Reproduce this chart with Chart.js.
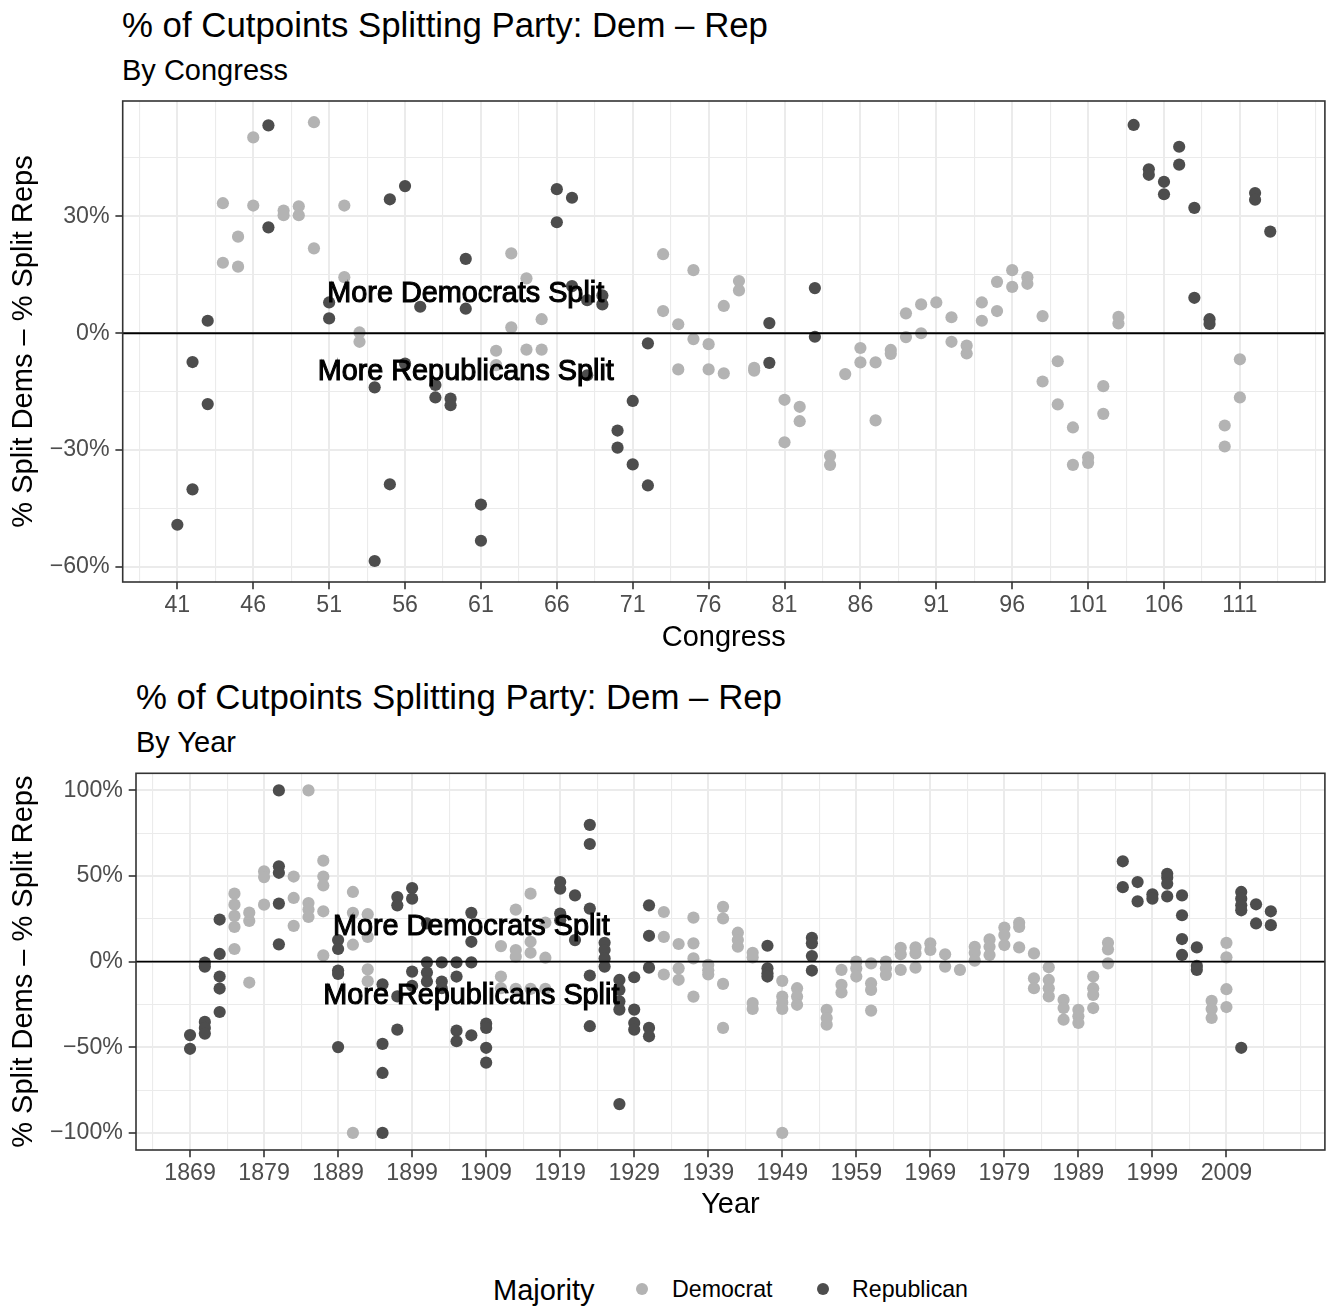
<!DOCTYPE html>
<html>
<head>
<meta charset="utf-8">
<script src="https://cdn.jsdelivr.net/npm/chart.js@4/dist/chart.umd.min.js"></script>
<style>
  html, body { margin: 0; padding: 0; background: #fff; }
  body { width: 1331px; height: 1306px; position: relative; overflow: hidden;
         font-family: "Liberation Sans", Arial, sans-serif; }
  .t { position: absolute; white-space: nowrap; color: #000; line-height: 1; }
  canvas { position: absolute; left: 0; }
  .dot { position: absolute; width: 12px; height: 12px; border-radius: 50%; }
</style>
</head>
<body>
<div class="t" style="left:122px; top:8px; font-size:34.8px;">% of Cutpoints Splitting Party: Dem – Rep</div>
<div class="t" style="left:122px; top:56px; font-size:29px;">By Congress</div>
<canvas id="c1" width="1331" height="665" style="top:0px;"></canvas>

<div class="t" style="left:136px; top:680px; font-size:34.8px;">% of Cutpoints Splitting Party: Dem – Rep</div>
<div class="t" style="left:136px; top:728px; font-size:29px;">By Year</div>
<canvas id="c2" width="1331" height="575" style="top:665px;"></canvas>

<div class="t" style="left:493px; top:1276px; font-size:29px;">Majority</div>
<div class="dot" style="left:636px; top:1283px; background:#b3b3b3;"></div>
<div class="t" style="left:672px; top:1277.7px; font-size:23.2px;">Democrat</div>
<div class="dot" style="left:817px; top:1283px; background:#4d4d4d;"></div>
<div class="t" style="left:852px; top:1277.7px; font-size:23.2px;">Republican</div>

<script>
// ---------------- DATA: top panel (by Congress) ----------------
const topDemCongress = [
  44,44, 45,45, 46,46, 48,48, 49,49, 50,50, 52,52, 53,53,
  62,62, 63,63, 64,64, 65,65,
  73,73, 74,74, 75,75, 76,76, 77,77, 78,78, 79,79,
  81,81, 82,82, 84,84, 85, 86,86, 87,87, 88,88, 89,89, 90,90,
  91, 92,92, 93,93, 94,94, 95,95, 96,96, 97,97, 98,98, 99,99,
  100,100, 101,101, 102,102, 103,103, 110,110, 111,111
];
const topDemValue = [
  33.4,18.1, 24.8,17.1, 50.3,32.8, 31.5,30.3, 32.6,30.3, 54.2,21.8, 32.8,14.4, 0.2,-2.2,
  -4.5,-8.2, 20.5,1.5, 14.1,-4.2, 3.6,-4.2,
  20.3,5.7, 2.3,-9.3, 16.2,-1.5, -2.8,-9.3, 7.0,-10.3, 13.4,11.0, -8.9,-9.6,
  -17.1,-28.0, -18.9,-22.6, -31.5,-33.8, -10.5, -3.8,-7.5, -7.5,-22.4, -4.3,-5.3, 5.1,-1.0, 7.4,0.0,
  7.9, 4.1,-2.2, -3.2,-5.2, 7.9,3.2, 13.2,5.7, 16.2,11.9, 14.4,12.7, 4.4,-12.4, -7.2,-18.3,
  -24.2,-33.8, -31.9,-33.3, -13.6,-20.7, 4.2,2.5, -23.7,-29.1, -6.7,-16.5
];
const topRepCongress = [
  41, 42,42, 43,43, 47,47, 51,51, 54,54, 55,55, 56,56, 57, 58,58, 59,59, 60,60, 61,61,
  66,66, 67,67, 68,68, 69,69, 70,70, 71,71, 72,72, 80,80, 83,83,
  104, 105,105, 106,106, 107,107, 108,108, 109,109, 112,112, 113
];
const topRepValue = [
  -49.2, -7.4,-40.1, 3.2,-18.2, 53.4,27.2, 7.9,3.8, -13.9,-58.5, 34.4,-38.8, 37.8,-7.8, 6.8, -13.3,-16.5, -16.8,-18.5, 19.1,6.3, -44.0,-53.3,
  37.0,28.5, 34.8,12.1, 8.5,-10.8, 9.7,7.4, -25.0,-29.4, -17.4,-33.7, -2.6,-39.1, 2.6,-7.6, 11.6,-0.9,
  53.5, 42.1,40.7, 38.9,35.7, 47.9,43.3, 32.2,9.1, 3.6,2.4, 36.0,34.3, 26.1
];
const topXMajor = [41,46,51,56,61,66,71,76,81,86,91,96,101,106,111];
const topXMinor = [38.5,43.5,48.5,53.5,58.5,63.5,68.5,73.5,78.5,83.5,88.5,93.5,98.5,103.5,108.5,113.5,116];
const topYMajor = [-60,-30,0,30];
const topYMinor = [-45,-15,15,45];
const topAnnotX = [60, 60];
const topAnnotY = [10, -10];

// ---------------- DATA: bottom panel (by Year) ----------------
const botDemYear = [
  1875,1875,1875,1875,1875, 1877,1877,1877, 1879,1879,1879, 1883,1883,1883,
  1885,1885,1885,1885, 1887,1887,1887,1887,1887, 1891,1891,1891,1891, 1893,1893,1893,1893,
  1911,1911,1911, 1913,1913,1913,1913, 1915,1915,1915,1915, 1917,1917,1917,
  1933,1933,1933, 1935,1935,1935, 1937,1937,1937,1937, 1939,1939,1939, 1941,1941,1941,1941,
  1943,1943,1943, 1945,1945,1945,1945, 1949,1949,1949,1949,1949, 1951,1951,1951,
  1955,1955,1955, 1957,1957,1957, 1959,1959,1959, 1961,1961,1961,1961, 1963,1963,1963,
  1965,1965,1965, 1967,1967,1967, 1969,1969, 1971,1971, 1973, 1975,1975,1975,
  1977,1977,1977, 1979,1979,1979, 1981,1981,1981, 1983,1983,1983, 1985,1985,1985,1985,
  1987,1987,1987, 1989,1989,1989, 1991,1991,1991,1991, 1993,1993,1993,
  2007,2007,2007, 2009,2009,2009,2009
];
const botDemValue = [
  39.7,33.3,26.7,20.3,7.4, 28.6,23.8,-12.2, 52.7,49.4,33.3, 49.7,37.2,20.9,
  100,34.2,30.4,26.1, 59.0,49.7,44.5,29.4,3.7, 40.7,28.5,9.9,-100, 27.7,14.5,-4.5,-11.4,
  9.1,-8.7,-15.5, 30.4,6.8,2.9,-15.9, 39.7,11.6,5.2,-15.9, 22.8,2.3,-15.9,
  29.0,14.5,-7.5, 10.3,-3.9,-10.6, 25.7,10.7,1.9,-20.4, -1.9,-5.0,-7.5, 32.0,25.2,-13.0,-38.7,
  16.9,12.6,8.7, 5.2,2.5,-24.2,-27.6, -11.2,-20.4,-23.8,-27.6,-100, -15.5,-20.4,-25.2,
  -28.1,-32.9,-36.8, -4.8,-13.5,-18.0, 0,-3.9,-8.7, -1.0,-12.6,-16.5,-28.6, 0,-3.9,-7.7,
  8.1,4.3,-4.8, 8.3,4.8,-3.5, 10.7,6.8, 4.3,-2.9, -4.8, 8.7,5.2,0.6,
  13.0,8.7,3.9, 19.9,15.5,9.7, 22.7,20.3,8.3, 4.8,-9.7,-15.5, -3.3,-10.7,-15.5,-20.3,
  -22.3,-27.1,-33.9, -28.1,-31.9,-35.8, -8.7,-15.5,-19.4,-27.1, 11.0,7.2,-1.0,
  -22.9,-27.7,-32.9, 11.0,2.5,-16.1,-26.5
];
const botRepYear = [
  1869,1869, 1871,1871,1871,1871,1871, 1873,1873,1873,1873,1873, 1881,1881,1881,1881,1881,
  1889,1889,1889,1889,1889, 1895,1895,1895,1895, 1897,1897,1897,1897, 1899,1899,1899,1899,
  1901,1901,1901,1901, 1903,1903,1903, 1905,1905,1905,1905, 1907,1907,1907,1907,
  1909,1909,1909,1909, 1919,1919,1919,1919, 1921,1921, 1923,1923,1923,1923,1923,
  1925,1925,1925,1925, 1927,1927,1927,1927,1927, 1929,1929,1929,1929, 1931,1931,1931,1931,1931,
  1947,1947,1947,1947, 1953,1953,1953,1953,
  1995,1995, 1997,1997, 1999,1999, 2001,2001,2001,2001, 2003,2003,2003,2003, 2005,2005,2005,
  2011,2011,2011,2011,2011, 2013,2013, 2015,2015
];
const botRepValue = [
  -42.9,-50.9, -0.6,-2.9,-35.2,-38.7,-42.0, 24.6,4.5,-8.7,-15.7,-29.4, 100,55.7,51.9,33.9,10.1,
  12.6,7.4,-5.2,-7.2,-49.9, -13.2,-48.0,-65.0,-100, 37.7,32.9,-20.3,-39.7, 43.0,36.8,-5.8,-14.1,
  22.3,-0.4,-6.4,-11.6, -0.4,-11.6,-15.5, -0.4,-8.7,-40.3,-46.5, 28.5,11.6,-0.4,-43.0,
  -36.2,-38.7,-50.3,-59.0, 46.5,42.6,28.1,24.2, 38.7,12.6, 79.9,68.7,31.0,-8.1,-37.7,
  11.0,6.8,1.9,-2.9, -10.7,-16.5,-23.2,-28.0,-83.2, -9.1,-28.0,-35.8,-39.7, 32.9,15.1,-3.5,-38.7,-43.6,
  9.3,-3.9,-6.8,-8.7, 13.9,10.7,3.3,-5.2,
  58.6,43.5, 46.5,35.2, 39.3,36.8, 51.3,49.0,45.5,38.1, 38.7,27.1,13.2,3.9, 8.3,-2.5,-4.8,
  40.7,36.8,32.9,30.0,-50.3, 33.5,22.3, 29.4,21.3
];
const botXMajor = [1869,1879,1889,1899,1909,1919,1929,1939,1949,1959,1969,1979,1989,1999,2009];
const botXMinor = [1864,1874,1884,1894,1904,1914,1924,1934,1944,1954,1964,1974,1984,1994,2004,2014,2019];
const botYMajor = [-100,-50,0,50,100];
const botYMinor = [-75,-25,25,75];
const botAnnotX = [1907, 1907];
const botAnnotY = [20, -20];

const annotLabels = ['More Democrats Split', 'More Republicans Split'];
const legendLabels = ['Democrat', 'Republican'];

// ---------------- rendering ----------------
const FONT = '"Liberation Sans", Arial, sans-serif';
Chart.defaults.font.family = FONT;
const DEM_COL = '#b3b3b3';
const REP_COL = '#4d4d4d';

function pts(xs, ys) { return xs.map((x, i) => ({ x: x, y: ys[i] })); }
function pctLabel(v) { return (v < 0 ? '\u2212' + Math.abs(v) : String(v)) + '%'; }

const panelPlugin = {
  id: 'panel',
  afterDatasetsDraw(chart, args, opts) {
    const ctx = chart.ctx, a = chart.chartArea, xs = chart.scales.x, ys = chart.scales.y;
    ctx.save();
    const y0 = ys.getPixelForValue(0);
    ctx.strokeStyle = '#000'; ctx.lineWidth = 1.8;
    ctx.beginPath(); ctx.moveTo(a.left, y0); ctx.lineTo(a.right, y0); ctx.stroke();
    ctx.font = '28.8px ' + FONT;
    ctx.textAlign = 'center'; ctx.textBaseline = 'middle';
    ctx.fillStyle = '#000'; ctx.strokeStyle = '#000'; ctx.lineWidth = 1.1;
    opts.labels.forEach((t, i) => {
      const px = xs.getPixelForValue(opts.xs[i]), py = ys.getPixelForValue(opts.ys[i]);
      ctx.fillText(t, px, py); ctx.strokeText(t, px, py);
    });
    ctx.strokeStyle = '#333333'; ctx.lineWidth = 1.6;
    ctx.strokeRect(a.left, a.top, a.right - a.left, a.bottom - a.top);
    ctx.restore();
  }
};

function makeChart(id, cfg) {
  const isMajX = v => cfg.xMajor.indexOf(v) >= 0;
  const isMajY = v => cfg.yMajor.indexOf(v) >= 0;
  const xTicks = cfg.xMajor.concat(cfg.xMinor).sort((a, b) => a - b);
  const yTicks = cfg.yMajor.concat(cfg.yMinor).sort((a, b) => a - b);
  return new Chart(document.getElementById(id), {
    type: 'scatter',
    data: {
      datasets: [
        { label: legendLabels[0], data: pts(cfg.demX, cfg.demY), backgroundColor: DEM_COL,
          pointRadius: 6.1, pointHoverRadius: 6.1, borderWidth: 0 },
        { label: legendLabels[1], data: pts(cfg.repX, cfg.repY), backgroundColor: REP_COL,
          pointRadius: 6.1, pointHoverRadius: 6.1, borderWidth: 0 }
      ]
    },
    options: {
      responsive: false, animation: false, devicePixelRatio: 1,
      layout: { padding: { top: cfg.padTop, right: 4.3, left: 0, bottom: 0 } },
      plugins: {
        legend: { display: false }, tooltip: { enabled: false },
        panel: { labels: annotLabels, xs: cfg.annotX, ys: cfg.annotY }
      },
      scales: {
        x: {
          type: 'linear', min: cfg.xMin, max: cfg.xMax,
          afterBuildTicks: s => { s.ticks = xTicks.map(v => ({ value: v })); },
          afterFit: s => { s.height = cfg.xAxisH; },
          ticks: { autoSkip: false, maxRotation: 0, minRotation: 0, padding: 2.8,
                   color: '#4d4d4d', font: { size: 23.2 },
                   callback: v => isMajX(v) ? String(v) : '' },
          grid: { color: '#ebebeb',
                  lineWidth: c => (c.tick && isMajX(c.tick.value)) ? 2 : 1.1,
                  tickLength: 7.3, tickWidth: 1.6,
                  tickColor: c => (c.tick && isMajX(c.tick.value)) ? '#333333' : 'rgba(0,0,0,0)' },
          border: { display: false },
          title: { display: true, text: cfg.xTitle, color: '#000', font: { size: 29 },
                   padding: { top: 0, bottom: cfg.xTitlePad } }
        },
        y: {
          type: 'linear', min: cfg.yMin, max: cfg.yMax,
          afterBuildTicks: s => { s.ticks = yTicks.map(v => ({ value: v })); },
          afterFit: s => { s.width = cfg.yAxisW; },
          ticks: { autoSkip: false, padding: 5.8, color: '#4d4d4d', font: { size: 23.2 },
                   callback: v => isMajY(v) ? pctLabel(v) : '' },
          grid: { color: '#ebebeb',
                  lineWidth: c => (c.tick && isMajY(c.tick.value)) ? 2 : 1.1,
                  tickLength: 7.3, tickWidth: 1.6,
                  tickColor: c => (c.tick && isMajY(c.tick.value)) ? '#333333' : 'rgba(0,0,0,0)' },
          border: { display: false },
          title: { display: true, text: '% Split Dems \u2013 % Split Reps', color: '#000',
                   font: { size: 29 }, padding: { top: 6.6, bottom: 0 } }
        }
      }
    },
    plugins: [panelPlugin]
  });
}

makeChart('c1', {
  demX: topDemCongress, demY: topDemValue, repX: topRepCongress, repY: topRepValue,
  xMajor: topXMajor, xMinor: topXMinor, yMajor: topYMajor, yMinor: topYMinor,
  xMin: 37.4, xMax: 116.6, yMin: -63.9, yMax: 59.65,
  padTop: 101, xAxisH: 83, yAxisW: 122.7, xTitle: 'Congress', xTitlePad: 9.6,
  annotX: topAnnotX, annotY: topAnnotY
});
makeChart('c2', {
  demX: botDemYear, demY: botDemValue, repX: botRepYear, repY: botRepValue,
  xMajor: botXMajor, xMinor: botXMinor, yMajor: botYMajor, yMinor: botYMinor,
  xMin: 1861.7, xMax: 2022.3, yMin: -110, yMax: 110,
  padTop: 108.3, xAxisH: 90, yAxisW: 136, xTitle: 'Year', xTitlePad: 17.6,
  annotX: botAnnotX, annotY: botAnnotY
});
</script>
</body>
</html>
